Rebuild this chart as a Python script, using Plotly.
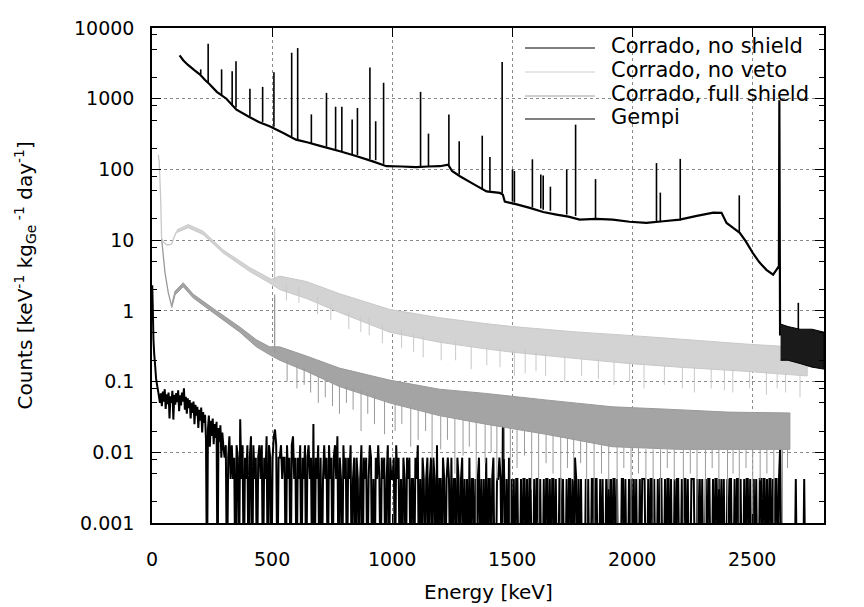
import plotly.graph_objects as go

# ---------------------------------------------------------------
# Background spectra, counts [keV^-1 kg_Ge^-1 day^-1] vs energy [keV]
# ---------------------------------------------------------------

# Corrado, no shield: continuum
noshield_E = [115, 130, 150, 175, 200, 220, 240, 270, 310, 352, 400, 445, 490, 545, 600,
              650, 700, 783, 850, 920, 977, 1040, 1100, 1150, 1199, 1234, 1250, 1283,
              1340, 1394, 1449, 1462, 1470, 1520, 1574, 1630, 1685, 1735, 1782, 1850,
              1920, 1990, 2060, 2130, 2199, 2270, 2339, 2373, 2394, 2420, 2449, 2475,
              2503, 2530, 2560, 2588, 2606, 2612, 2614, 2617]
noshield_v = [4100, 3500, 3000, 2550, 2200, 1850, 1600, 1250, 1000, 700, 565, 470, 407,
              330, 264, 240, 215, 181, 155, 130, 111, 110, 108, 110, 111, 117, 95, 80,
              62, 49, 46.5, 44, 35, 32, 28.6, 25, 23, 21.5, 19.5, 20, 19.5, 18.2, 17.5,
              18.5, 19.5, 22, 24.5, 24.3, 17.5, 15, 12.7, 9.5, 6.6, 4.9, 3.8, 3.25, 4.0,
              4.3, 950, 0.45]
# gamma lines on top of the continuum
noshield_peak_E = [203, 234, 290, 334, 350, 408, 461, 508, 582, 607, 664, 727, 765, 791,
                   834, 856, 908, 932, 965, 1119, 1152, 1237, 1280, 1376, 1408, 1459,
                   1502, 1510, 1585, 1620, 1630, 1660, 1728, 1765, 1848, 2102, 2118,
                   2201, 2447, 2693]
noshield_peak_base = [2200, 1700, 1100, 800, 750, 570, 470, 400, 290, 260, 235, 210, 190,
                      180, 165, 160, 140, 135, 120, 108, 108, 115, 85, 52, 50, 46,
                      35, 34, 29, 28, 27, 26, 23, 22, 20, 18, 18, 19, 13, 0.5]
noshield_peak_top = [2600, 6000, 2600, 2450, 3400, 1380, 1470, 2370, 4470, 5200, 600,
                     1210, 770, 770, 507, 740, 2760, 480, 1680, 1250, 321, 600, 250,
                     300, 150, 3300, 100, 95, 139, 85, 82, 57, 100, 430, 73, 123, 47,
                     141, 43, 1.3]
# above the 2615 keV line
noshield_tail_E = [2619, 2650, 2700, 2750, 2800]
noshield_tail_hi = [0.65, 0.6, 0.55, 0.55, 0.5]
noshield_tail_lo = [0.2, 0.2, 0.18, 0.16, 0.15]

# Corrado, no veto
noveto_line_E = [26, 30, 36, 40, 47, 54, 61, 70, 82, 92, 103]
noveto_line_v = [162, 130, 40, 10.5, 9.4, 9.0, 8.6, 8.6, 8.8, 11, 13.3]
noveto_band_E = [103, 151, 213, 296, 407, 497, 532, 643, 781, 989, 1197, 1390, 1502,
                 1778, 1986, 2194, 2471, 2730]
noveto_band_hi = [13.9, 16.6, 13.4, 7.3, 4.1, 2.8, 3.1, 2.6, 1.75, 1.05, 0.8, 0.66, 0.6,
                  0.5, 0.45, 0.4, 0.34, 0.3]
noveto_band_lo = [12.8, 15.0, 12.0, 6.6, 3.6, 2.4, 2.0, 1.5, 0.95, 0.5, 0.36, 0.29, 0.26,
                  0.21, 0.18, 0.16, 0.14, 0.12]
noveto_peak_E = [511]
noveto_peak_base = [2.6]
noveto_peak_top = [14.9]
noveto_dip_E = [560, 612, 690, 745, 820, 870, 905, 960, 1040, 1090, 1130, 1205, 1265,
                1330, 1395, 1450, 1510, 1555, 1600, 1640, 1720, 1790, 1860, 1925, 1990,
                2050, 2135, 2210, 2260, 2330, 2385, 2420, 2490, 2560, 2605, 2640, 2700]
noveto_dip_top = [2.4, 2.2, 1.6, 1.3, 1.0, 0.85, 0.8, 0.65, 0.55, 0.48, 0.45, 0.38, 0.38,
                  0.32, 0.3, 0.3, 0.28, 0.28, 0.26, 0.25, 0.23, 0.22, 0.21, 0.2, 0.19,
                  0.18, 0.17, 0.16, 0.16, 0.15, 0.15, 0.15, 0.14, 0.14, 0.13, 0.13, 0.12]
noveto_dip_bottom = [1.4, 1.3, 0.9, 0.75, 0.55, 0.5, 0.45, 0.35, 0.3, 0.26, 0.22, 0.2,
                     0.2, 0.15, 0.17, 0.16, 0.12, 0.13, 0.14, 0.12, 0.1, 0.12, 0.11,
                     0.09, 0.1, 0.08, 0.09, 0.08, 0.07, 0.08, 0.075, 0.07, 0.08, 0.065,
                     0.08, 0.07, 0.06]

# Corrado, full shield
full_line_E = [40, 47, 54, 68, 82]
full_line_v = [10.5, 5.5, 3.5, 1.8, 1.16]
full_band_E = [82, 96, 130, 172, 269, 366, 435, 490, 532, 643, 781, 989, 1197, 1390,
               1640, 1917, 2194, 2400, 2658]
full_band_hi = [1.22, 1.9, 2.5, 1.72, 1.0, 0.59, 0.39, 0.31, 0.31, 0.23, 0.155, 0.105,
                0.078, 0.068, 0.055, 0.044, 0.04, 0.037, 0.036]
full_band_lo = [1.1, 1.68, 2.2, 1.52, 0.87, 0.5, 0.31, 0.24, 0.2, 0.14, 0.085, 0.05,
                0.033, 0.025, 0.018, 0.012, 0.011, 0.011, 0.011]
full_peak_E = [511]
full_peak_base = [0.25]
full_peak_top = [1.7]
full_dip_E = [563, 604, 634, 661, 693, 722, 752, 781, 810, 838, 871, 899, 927, 969, 1013,
              1041, 1078, 1109, 1140, 1167, 1203, 1231, 1262, 1296, 1322, 1351, 1388,
              1413, 1437, 1468, 1493, 1521, 1552, 1582, 1611, 1642, 1671, 1703, 1731,
              1757, 1786, 1811, 1842, 1873, 1903, 1938, 1966, 1996, 2027, 2058, 2088,
              2119, 2147, 2176, 2214, 2243, 2271, 2306, 2334, 2362, 2398, 2421, 2447,
              2475, 2503, 2534, 2562, 2591, 2627, 2648]
full_dip_top = [0.2, 0.17, 0.16, 0.14, 0.12, 0.11, 0.1, 0.09, 0.085, 0.08, 0.075, 0.07,
                0.065, 0.055, 0.05, 0.048, 0.045, 0.04, 0.038, 0.036, 0.033, 0.031, 0.03,
                0.03, 0.028, 0.027, 0.025, 0.025, 0.024, 0.023, 0.022, 0.021, 0.02, 0.02,
                0.019, 0.018, 0.018, 0.017, 0.016, 0.016, 0.015, 0.015, 0.014, 0.013,
                0.013, 0.012, 0.012, 0.012, 0.012, 0.011, 0.011, 0.011, 0.011, 0.011,
                0.011, 0.011, 0.011, 0.011, 0.011, 0.011, 0.011, 0.011, 0.011, 0.011,
                0.011, 0.011, 0.011, 0.011, 0.011, 0.011]
full_dip_bottom = [0.1, 0.08, 0.09, 0.07, 0.05, 0.06, 0.045, 0.035, 0.05, 0.04, 0.02,
                   0.035, 0.025, 0.018, 0.02, 0.025, 0.012, 0.015, 0.02, 0.008, 0.011,
                   0.015, 0.005, 0.009, 0.012, 0, 0.007, 0.01, 0.004, 0.008, 0, 0.006,
                   0.009, 0.003, 0, 0.007, 0.005, 0, 0.006, 0.004, 0.007, 0, 0, 0.005,
                   0.003, 0, 0.006, 0, 0.005, 0.004, 0, 0, 0.006, 0.004, 0, 0.005, 0, 0,
                   0.006, 0.003, 0, 0.005, 0, 0.006, 0, 0.004, 0.005, 0, 0, 0.006]

# Gempi: low-energy part
gempi_low_E = [1, 3, 6, 9, 13, 17, 21, 25, 29, 33, 37, 41, 45, 49, 53, 57, 61, 65, 69, 73,
               77, 81, 85, 89, 93, 97, 101, 105, 109, 113, 117, 121, 125, 129, 133, 137,
               141, 145, 149, 153, 157, 161, 165, 169, 173, 177, 181, 185, 189, 193, 197,
               201, 205, 209, 213, 217, 221, 225, 229, 233, 237, 241, 245, 249, 253, 257,
               261, 265, 269, 273, 277, 281, 285, 289, 293, 297]
gempi_low_v = [2.3, 1.2, 0.4, 0.25,
               0.17, 0.11, 0.09, 0.075, 0.062, 0.05, 0.068, 0.045, 0.072, 0.052,
               0.078, 0.041, 0.066, 0.048, 0.07, 0.03, 0.062, 0.05, 0.074, 0.029,
               0.065, 0.047, 0.069, 0.051, 0.075, 0.038, 0.064, 0.046, 0.07, 0.052,
               0.08, 0.04, 0.061, 0.035, 0.058, 0.042, 0.055, 0.03, 0.05, 0.036,
               0.052, 0.025, 0.047, 0.033, 0.044, 0.022, 0.04, 0.028, 0.043, 0.019,
               0.037, 0.026, 0.034, 0.015, 0, 0.021, 0.033, 0.012, 0.028, 0.017,
               0.03, 0.013, 0.025, 0.016, 0.027, 0, 0.022, 0.014, 0.024, 0.0084,
               0.019, 0.0126]
# Gempi above 300 keV: counts per 5 keV bin (base-36 digits), one count = 0.0042
gempi_count_unit = 0.0042
gempi_bin_width = 5
gempi_counts_300 = "23024131203207130213024031202313021403202453022312"
gempi_counts_550 = "20312034120213021302312060213020131203120231402103"
gempi_counts_800 = "12021301202101302120132010213102120130211203120102"
gempi_counts_1050 = "10212011021301021012012021030110210121020110210120"
gempi_counts_1300 = "10102011010120101020110120011210c10102010101100101"
gempi_counts_1550 = "10101100101101001011010110100110100101101021010100"
gempi_counts_1800 = "01010011011001010010101011010001101001010101001011"
gempi_counts_2050 = "10010110100101100101101001011001011010011100101010"
gempi_counts_2300 = "01011001011010101001011001011010010110100101001101"
gempi_counts_2550 = "10101101011013000000000000100000010000000000000000"

x_ticks = [0, 500, 1000, 1500, 2000, 2500]
y_ticks = [0.001, 0.01, 0.1, 1, 10, 100, 1000, 10000]
y_ticktext = ["0.001", "0.01", "0.1", "1", "10", "100", "1000", "10000"]

# empty bins are drawn down to the bottom frame, as on the original
FLOOR = 1e-4

BLACK = "#000000"
LIGHT = "#c9c9c9"
LIGHT_FILL = "#d3d3d3"
MID = "#9a9a9a"
MID_FILL = "#a4a4a4"
FONT = "DejaVu Sans"


def floor(vals):
    return [v if v > 0 else FLOOR for v in vals]


def band_trace(E, hi, lo, color, fillcolor):
    return go.Scatter(x=list(E) + list(E)[::-1], y=list(hi) + floor(lo)[::-1],
                      mode="lines", fill="toself", fillcolor=fillcolor,
                      line=dict(color=color, width=1, simplify=False), hoverinfo="skip")


def spike_trace(E, lo, hi, color, width=1):
    xs, ys = [], []
    for e, a, b in zip(E, floor(lo), hi):
        xs += [e, e, None]
        ys += [a, b, None]
    return go.Scatter(x=xs, y=ys, mode="lines",
                      line=dict(color=color, width=width, simplify=False),
                      hoverinfo="skip")


# Gempi full spectrum
gempi_E = list(gempi_low_E)
gempi_v = list(gempi_low_v)
for start, digits in [(300, gempi_counts_300), (550, gempi_counts_550),
                      (800, gempi_counts_800), (1050, gempi_counts_1050),
                      (1300, gempi_counts_1300), (1550, gempi_counts_1550),
                      (1800, gempi_counts_1800), (2050, gempi_counts_2050),
                      (2300, gempi_counts_2300), (2550, gempi_counts_2550)]:
    for i, ch in enumerate(digits):
        gempi_E.append(start + gempi_bin_width * i + gempi_bin_width / 2)
        gempi_v.append(int(ch, 36) * gempi_count_unit)

fig = go.Figure()

# Gempi
fig.add_trace(go.Scatter(x=gempi_E, y=floor(gempi_v), mode="lines",
                         line=dict(color=BLACK, width=2, simplify=False)))

# Corrado, full shield
fig.add_trace(go.Scatter(x=full_line_E, y=full_line_v, mode="lines",
                         line=dict(color=MID, width=1.3)))
fig.add_trace(band_trace(full_band_E, full_band_hi, full_band_lo, MID, MID_FILL))
fig.add_trace(spike_trace(full_peak_E, full_peak_base, full_peak_top, MID, 1.3))
fig.add_trace(spike_trace(full_dip_E, full_dip_bottom, full_dip_top, MID, 1))

# Corrado, no veto
fig.add_trace(go.Scatter(x=noveto_line_E, y=noveto_line_v, mode="lines",
                         line=dict(color=LIGHT, width=1.3)))
fig.add_trace(band_trace(noveto_band_E, noveto_band_hi, noveto_band_lo, LIGHT, LIGHT_FILL))
fig.add_trace(spike_trace(noveto_peak_E, noveto_peak_base, noveto_peak_top, LIGHT, 1.3))
fig.add_trace(spike_trace(noveto_dip_E, noveto_dip_bottom, noveto_dip_top, LIGHT, 1))

# Corrado, no shield
fig.add_trace(go.Scatter(x=noshield_E, y=noshield_v, mode="lines",
                         line=dict(color=BLACK, width=2.2, simplify=False)))
fig.add_trace(spike_trace(noshield_peak_E, noshield_peak_base, noshield_peak_top, BLACK, 1.6))
fig.add_trace(band_trace(noshield_tail_E, noshield_tail_hi, noshield_tail_lo, BLACK, "#1a1a1a"))

# plot frame as seen on screen; the page body adds an 8 px offset
page_offset = 8
plot_l, plot_r, plot_t, plot_b = 152, 824, 28, 523
plot_w, plot_h = plot_r - plot_l, plot_b - plot_t

# hand-made legend (gnuplot style: long sample line, text on the right)
legend_items = [("Corrado, no shield", "#000000"), ("Corrado, no veto", "#d0d0d0"),
                ("Corrado, full shield", "#a0a0a0"), ("Gempi", "#000000")]
row_px = [48, 72, 96, 119]
shapes, annotations = [], []
for (label, color), ypx in zip(legend_items, row_px):
    yp = (plot_b - ypx) / plot_h
    shapes.append(dict(type="line", xref="paper", yref="paper",
                       x0=(525 - plot_l) / plot_w, x1=(595 - plot_l) / plot_w,
                       y0=yp, y1=yp, line=dict(color=color, width=1)))
    annotations.append(dict(text=label, xref="paper", yref="paper",
                            x=(609 - plot_l) / plot_w, y=yp + 2 / plot_h,
                            xanchor="left", yanchor="middle", showarrow=False,
                            font=dict(family=FONT, size=21, color="black")))

# x tick labels and axis titles placed like gnuplot's
for v in x_ticks:
    annotations.append(dict(text=str(v), xref="x", yref="paper", x=v,
                            y=-(559 - plot_b) / plot_h, xanchor="center", yanchor="middle",
                            showarrow=False, font=dict(family=FONT, size=19, color="black")))
annotations.append(dict(text="Energy [keV]", xref="paper", yref="paper", x=0.5,
                        y=-(592 - plot_b) / plot_h, xanchor="center", yanchor="middle",
                        showarrow=False, font=dict(family=FONT, size=20, color="black")))
annotations.append(dict(text="Counts [keV<sup>-1</sup> kg<sub>Ge</sub><sup> -1</sup> day<sup>-1</sup>]",
                        xref="paper", yref="paper", x=-(plot_l - 25) / plot_w, y=0.5,
                        textangle=-90, xanchor="center", yanchor="middle", showarrow=False,
                        font=dict(family=FONT, size=20, color="black")))

y_minor = [m * 10 ** d for d in range(-3, 4) for m in (2, 5, 8)]

fig.update_layout(
    width=864, height=607,
    margin=dict(l=plot_l - page_offset, r=864 - plot_r + page_offset,
                t=plot_t - page_offset, b=607 - plot_b + page_offset, autoexpand=False),
    plot_bgcolor="white", paper_bgcolor="white",
    showlegend=False,
    font=dict(family=FONT, size=19, color="black"),
    shapes=shapes, annotations=annotations,
    xaxis=dict(range=[0, 2800], tickvals=x_ticks, showticklabels=False,
               ticks="inside", ticklen=9, tickwidth=1, tickcolor="black",
               showline=True, linecolor="black", linewidth=1.5, mirror="ticks",
               showgrid=True, gridcolor="#8a8a8a", griddash="dot", gridwidth=1,
               zeroline=False, automargin=False),
    yaxis=dict(type="log", range=[-3, 4], tickvals=y_ticks, ticktext=y_ticktext,
               ticks="inside", ticklen=9, tickwidth=1, tickcolor="black",
               showline=True, linecolor="black", linewidth=1.5, mirror="allticks",
               showgrid=True, gridcolor="#8a8a8a", griddash="dot", gridwidth=1,
               zeroline=False, ticklabelstandoff=12, automargin=False,
               minor=dict(tickvals=y_minor, ticks="inside", ticklen=5, tickcolor="black",
                          showgrid=False)),
)

fig.write_html("out.html")
